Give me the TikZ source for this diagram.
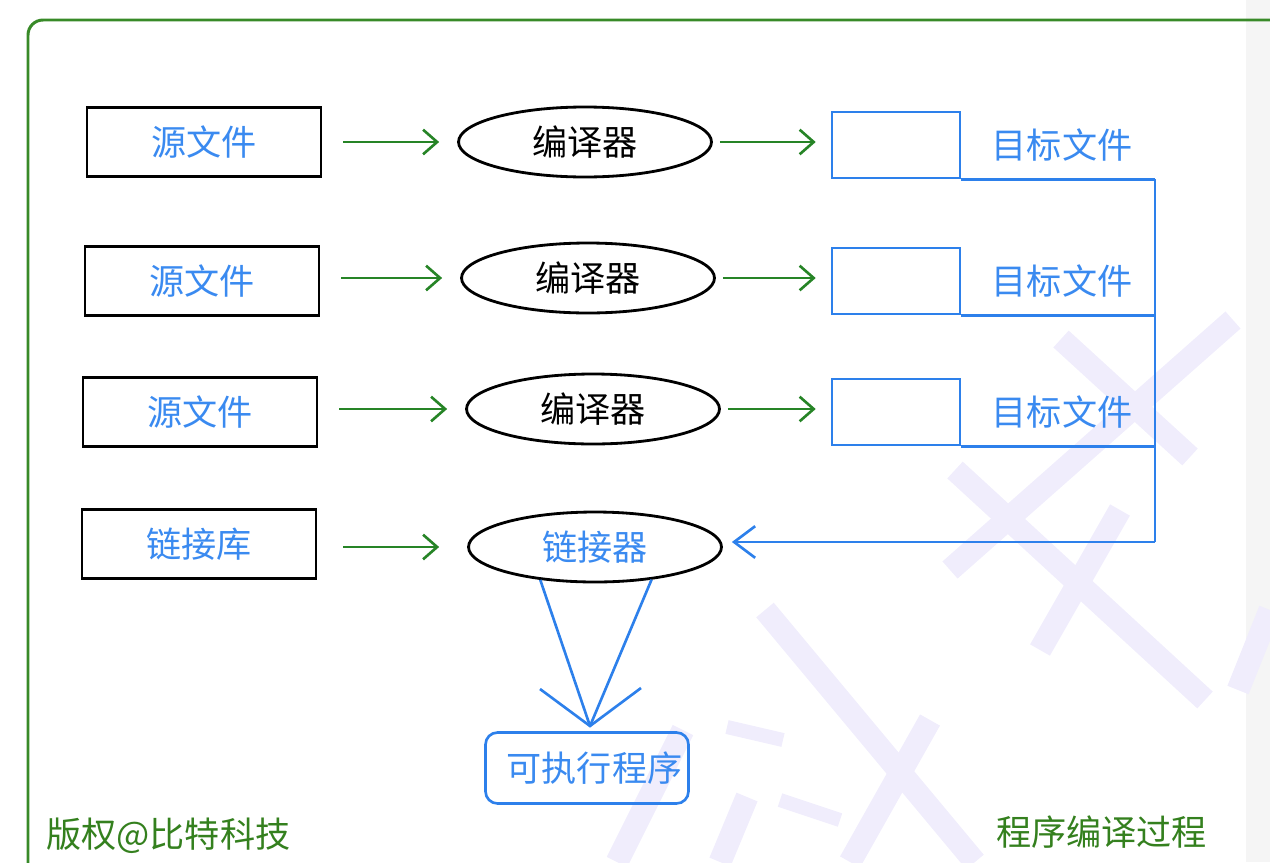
\documentclass[tikz,border=0pt]{standalone}
\usepackage{fontspec}
\setmainfont{Noto Sans CJK SC}
\usetikzlibrary{shapes.geometric,arrows.meta,calc}
\definecolor{objblue}{RGB}{45,128,235}
\definecolor{txtblue}{RGB}{58,138,240}
\definecolor{arrgreen}{RGB}{38,132,38}
\definecolor{framegreen}{RGB}{56,138,40}
\definecolor{notegreen}{RGB}{52,128,30}
\definecolor{wmark}{RGB}{240,237,252}
\tikzset{
  srcbox/.style={draw=black, line width=1.6pt, minimum width=4.68cm, minimum height=1.38cm, inner sep=0pt, text=txtblue},
  compiler/.style={ellipse, draw=black, line width=1.6pt, minimum width=5.06cm, minimum height=1.4cm, inner sep=0pt},
  objbox/.style={draw=objblue, line width=1.5pt, minimum width=2.56cm, minimum height=1.32cm, inner sep=0pt},
  flow/.style={arrgreen, line width=1.5pt, -{Straight Barb[length=8pt,width=14pt]}},
  bus/.style={objblue, line width=1.5pt},
  wm/.style={wmark, line width=13pt},
}
\begin{document}
\begin{tikzpicture}[x=0.02cm, y=-0.02cm, font=\fontsize{20}{24}\selectfont]
\useasboundingbox (0,0) rectangle (1270,862);
\fill[black!4] (1246,0) rectangle (1270,862);
\foreach \a/\b in {{(1061,339)}/{(1190,457)}, {(955,470)}/{(1205,700)}, {(950,570)}/{(1233,320)},
                   {(1040,650)}/{(1120,510)}, {(765,610)}/{(975,862)}, {(930,720)}/{(850,862)},
                   {(683,730)}/{(617,862)}, {(747,797)}/{(720,862)}, {(1238,690)}/{(1270,610)}}
  \draw[wm] \a -- \b;
\draw[wmark, line width=8pt] (727,727) -- (783,740);
\draw[wmark, line width=8pt] (780,800) -- (840,820);
\draw[framegreen, line width=1.7pt, rounded corners=0.3cm] (28,870) -- (28,20) -- (1280,20);

\foreach \i/\sx/\sy/\cx/\cy/\oy in {1/204/142/585/142/145, 2/202/281/588/278/281, 3/200/412/593/409/412}{
  \node[srcbox] (src\i) at (\sx,\sy) {源文件};
  \node[compiler] (comp\i) at (\cx,\cy) {编译器};
  \node[objbox] (obj\i) at (896,\oy) {};
  \node[text=txtblue] (objlbl\i) at (1062,\oy) {目标文件};
  \draw[flow, shorten <=0.42cm, shorten >=0.36cm] (src\i.east |- comp\i) -- (comp\i.west);
  \draw[flow, shorten <=0.14cm, shorten >=0.3cm] (comp\i.east) -- (comp\i.east -| obj\i.west);
}

\node[srcbox] (lib) at (199,544) {链接库};
\node[compiler, text=txtblue] (linker) at (595,547) {链接器};
\draw[flow, shorten <=0.52cm, shorten >=0.56cm] (lib.east |- linker) -- (linker.west);

\coordinate (bus) at (1155,542);
\foreach \i in {1,2,3}
  \draw[bus] (obj\i.south east) -- (obj\i.south east -| bus);
\draw[bus] (obj1.south east -| bus) -- (bus);
\draw[bus, -{Straight Barb[length=12pt,width=18pt]}, shorten >=0.18cm] (bus) -- (bus -| linker.east);

\node[draw=objblue, line width=1.5pt, rounded corners=0.24cm, minimum width=4.06cm, minimum height=1.42cm,
      inner sep=0pt, text=txtblue] (exe) at (587,768) {\hspace{0.3cm}可执行程序};
\coordinate (tip) at (590,726);
\draw[bus] (linker.-149) -- (tip);
\draw[bus] (linker.-30) -- (tip);
\draw[bus] (tip) + (-50,-37) -- (tip) -- +(51,-38);

\node[text=notegreen, anchor=west] (copyr) at (40,836) {版权@比特科技};
\node[text=notegreen, anchor=west] (title) at (990,832) {程序编译过程};
\end{tikzpicture}
\end{document}
